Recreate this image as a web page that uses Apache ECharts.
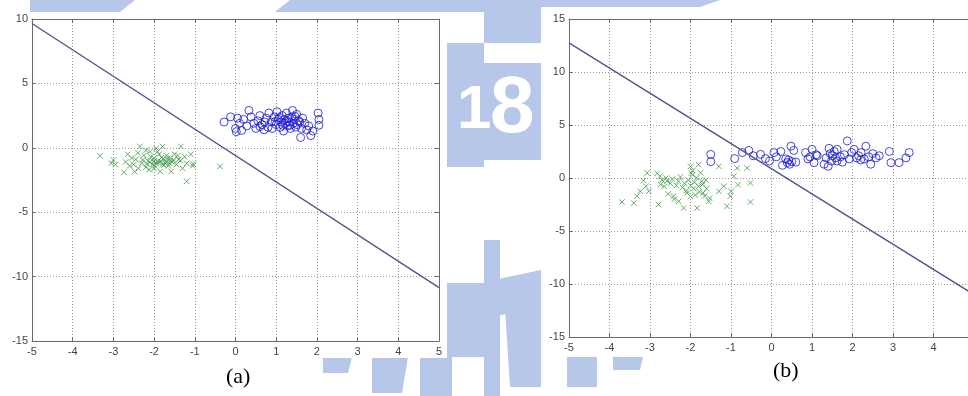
<!DOCTYPE html>
<html>
<head>
<meta charset="utf-8">
<script src="https://cdn.jsdelivr.net/npm/echarts@6/dist/echarts.min.js"></script>
<style>
  html, body { margin: 0; padding: 0; background: #fff; }
  #main { width: 968px; height: 396px; }
</style>
</head>
<body>
<div id="main"></div>
<script>
// (a) 两类样本 + 判别线
const greenA = [
  [-3.33,-0.62],[-3.05,-1.2],[-3.0,-0.95],[-2.95,-1.3],[-2.74,-1.9],[-2.7,-1.1],[-2.6,-1.4],[-2.48,-1.85],
  [-2.45,-0.9],[-2.4,-0.4],[-2.35,0.1],[-2.3,-1.2],[-2.25,-0.6],[-2.2,-1.5],[-2.15,-1.0],[-2.1,-0.3],
  [-2.05,-1.3],[-2.0,-1.6],[-2.0,-0.8],[-1.95,-1.2],[-1.9,-1.0],[-1.88,-0.5],[-1.85,-1.84],[-1.8,-1.3],
  [-1.79,0.1],[-1.75,-0.9],[-1.7,-1.1],[-1.7,-0.6],[-1.65,-1.4],[-1.6,-0.8],[-1.58,-1.84],[-1.55,-1.1],
  [-1.5,-0.5],[-1.45,-1.3],[-1.4,-0.9],[-1.34,0.1],[-1.3,-1.6],[-1.25,-0.7],[-1.2,-2.6],[-1.2,-1.2],
  [-1.1,-0.5],[-1.04,-1.27],[-1.05,-1.4],[-0.38,-1.45],[-2.55,-0.8],[-2.5,-1.3],[-2.38,-1.6],[-2.28,-0.95],
  [-2.18,-1.25],[-2.12,-1.7],[-2.08,-0.7],[-1.98,-1.4],[-1.92,-0.3],[-1.84,-1.05],[-1.76,-1.35],[-1.68,-0.85],
  [-1.62,-1.2],[-1.52,-0.95],[-1.42,-0.6],[-1.35,-1.0],[-2.65,-0.5],[-2.2,-0.2],[-1.95,-0.05],[-2.02,-1.05],
  [-1.82,-0.75],[-1.72,-1.2],[-1.9,-1.15],[-2.1,-1.1],[-1.6,-1.0]
];
const blueA = [
  [-0.28,2.0],[-0.12,2.4],[0.0,1.5],[0.02,1.25],[0.05,2.3],[0.1,1.9],[0.15,1.35],[0.2,2.2],[0.28,1.7],
  [0.33,2.9],[0.38,2.4],[0.45,1.9],[0.5,1.5],[0.55,2.1],[0.6,2.5],[0.65,1.8],[0.7,1.4],[0.75,2.3],
  [0.8,1.6],[0.82,2.7],[0.88,2.0],[0.9,1.5],[0.95,2.4],[1.0,1.8],[1.02,2.8],[1.05,2.2],[1.1,1.6],
  [1.12,2.0],[1.15,2.5],[1.18,1.3],[1.2,2.2],[1.22,1.9],[1.25,2.7],[1.28,1.7],[1.3,2.3],[1.32,2.0],
  [1.35,1.5],[1.38,2.4],[1.4,2.9],[1.42,1.9],[1.45,2.2],[1.48,1.6],[1.5,2.6],[1.52,1.8],[1.55,2.1],
  [1.6,0.8],[1.62,1.5],[1.65,2.3],[1.7,1.9],[1.75,1.4],[1.8,1.7],[1.85,0.95],[1.9,1.3],[2.03,2.7],
  [2.05,2.2],[2.05,1.75],[1.08,2.35],[1.16,1.75],[0.72,2.0],[0.6,1.65],[1.26,2.05],[1.34,1.75],
  [0.98,2.05],[1.46,2.45],[1.58,2.0]
];
const lineA = [[-5, 9.65], [5, -10.85]];

// (b)
const greenB = [
  [-3.69,-2.26],[-3.4,-2.36],[-3.32,-1.72],[-3.24,-1.25],[-3.16,-0.25],[-3.07,0.47],[-3.1,-0.78],[-3.03,-1.25],
  [-2.79,-2.5],[-2.75,0.16],[-2.74,-0.63],[-2.58,-0.3],[-2.42,-1.72],[-2.4,-2.0],[-2.29,-2.2],[-2.17,-2.83],
  [-2.09,-1.41],[-2.0,1.1],[-1.98,0.47],[-1.84,-2.83],[-1.8,1.26],[-1.72,-0.31],[-1.69,-1.41],[-1.55,-2.2],
  [-1.53,-1.9],[-1.3,-1.25],[-1.18,-0.78],[-1.1,-2.67],[-1.02,-1.72],[-1.0,-1.25],[-0.93,0.16],[-0.85,0.94],
  [-0.83,-0.63],[-0.6,0.94],[-0.52,-0.47],[-0.52,-2.26],[-1.3,1.1],[-2.82,0.44],[-2.7,-0.2],[-2.65,-0.8],
  [-2.6,0.0],[-2.5,-0.5],[-2.45,-0.1],[-2.35,-0.7],[-2.3,-0.3],[-2.25,0.1],[-2.2,-0.9],[-2.15,-0.5],
  [-2.1,-1.2],[-2.05,-0.2],[-2.0,-0.7],[-1.95,0.3],[-1.92,-1.0],[-1.9,-0.4],[-1.88,-1.6],[-1.85,0.0],
  [-1.8,-0.8],[-1.78,-1.3],[-1.75,0.5],[-1.7,-0.6],[-1.65,-1.7],[-1.62,-0.2],[-1.6,-1.0],[-2.55,-1.5],
  [-2.0,-1.75],[-1.95,0.7]
];
const blueB = [
  [-1.5,2.23],[-1.5,1.54],[-0.91,1.83],[-0.72,2.4],[-0.56,2.6],[-0.45,2.1],[-0.27,2.23],[-0.15,1.83],
  [-0.05,1.6],[0.06,2.4],[0.12,2.0],[0.23,2.5],[0.27,1.2],[0.35,1.8],[0.39,1.45],[0.42,1.7],[0.45,1.3],
  [0.48,3.0],[0.5,1.55],[0.55,2.6],[0.6,1.5],[0.84,2.4],[0.9,1.8],[1.0,2.7],[1.05,1.45],[1.1,2.2],
  [1.13,2.1],[1.3,1.3],[1.35,1.9],[1.42,2.8],[1.45,2.3],[1.48,1.6],[1.5,2.1],[1.55,2.5],[1.62,1.6],
  [1.62,2.7],[1.7,2.0],[1.75,1.5],[1.8,2.2],[1.87,3.5],[1.92,1.8],[1.98,2.4],[2.04,2.7],[2.1,1.9],
  [2.15,2.1],[2.21,2.4],[2.29,1.8],[2.33,3.0],[2.4,2.0],[2.45,1.3],[2.5,2.3],[2.58,1.9],[2.66,2.1],
  [2.91,2.5],[2.95,1.45],[3.15,1.45],[3.32,1.9],[3.4,2.4],[1.4,1.1],[0.95,2.0],[2.2,1.7],[1.58,1.9]
];
const lineB = [[-5, 12.75], [5, -11.0]];

const xRange = [-5, 5, 1];
const yRangeA = [-15, 10, 5];
const yRangeB = [-15, 15, 5];

const axisColor = '#6a6a6a';
const labelStyle = { color: '#444', fontSize: 11, fontFamily: 'Liberation Sans, Arial' };
const dotted = { color: '#9a9a9a', width: 1, type: [1, 2] };

// 每个子图四条边：下、上、左、右（上、右只画刻度）
function xAxes(grid) {
  const base = {
    type: 'value', gridIndex: grid, min: xRange[0], max: xRange[1], interval: xRange[2],
    axisLine: { show: true, onZero: false, lineStyle: { color: axisColor } },
    axisTick: { show: true, inside: true, length: 4, lineStyle: { color: axisColor } }
  };
  return [
    Object.assign({}, base, { position: 'bottom', splitLine: { show: true, lineStyle: dotted },
      axisLabel: Object.assign({ margin: 5 }, labelStyle) }),
    Object.assign({}, base, { position: 'top', splitLine: { show: false }, axisLabel: { show: false } })
  ];
}
function yAxes(grid, r) {
  const base = {
    type: 'value', gridIndex: grid, min: r[0], max: r[1], interval: r[2],
    axisLine: { show: true, onZero: false, lineStyle: { color: axisColor } },
    axisTick: { show: true, inside: true, length: 4, lineStyle: { color: axisColor } }
  };
  return [
    Object.assign({}, base, { position: 'left', splitLine: { show: true, lineStyle: dotted },
      axisLabel: Object.assign({ margin: 4 }, labelStyle) }),
    Object.assign({}, base, { position: 'right', splitLine: { show: false }, axisLabel: { show: false } })
  ];
}

const cross = 'path://M0,0L10,10M10,0L0,10';
const crossStyle = { color: 'rgba(0,0,0,0)', borderColor: '#3f9a46', borderWidth: 1 };
const circleStyle = { color: 'rgba(0,0,0,0)', borderColor: '#1a1ad0', borderWidth: 1 };
const lineStyle = { color: '#55558a', width: 1.4 };

// 背景水印（淡蓝色块）
const wm = '#b6c7ea';
const watermark = [
  [[30, 0], [135, 0], [120, 12], [30, 12]],
  [[290, 0], [484, 0], [484, 12], [275, 12]],
  [[447, 43], [484, 43], [484, 167], [447, 167]],
  [[447, 283], [484, 283], [484, 357], [447, 357]],
  [[323, 357], [352, 357], [348, 373], [323, 373]],
  [[372, 357], [408, 357], [402, 393], [372, 393]],
  [[420, 357], [452, 357], [452, 396], [420, 396]],
  [[484, 0], [720, 0], [700, 7], [484, 7]],
  [[484, 7], [541, 7], [541, 43], [484, 43]],
  [[484, 63], [541, 63], [541, 160], [484, 160]],
  [[484, 282], [541, 270], [541, 308], [484, 318]],
  [[505, 308], [541, 308], [541, 387], [510, 387]],
  [[484, 240], [500, 240], [500, 396], [484, 396]],
  [[567, 357], [597, 357], [597, 387], [567, 387]],
  [[613, 357], [643, 357], [640, 370], [613, 370]]
].map(p => ({ type: 'polygon', z: -20, shape: { points: p }, style: { fill: wm } }));

const chart = echarts.init(document.getElementById('main'));
chart.setOption({
  animation: false,
  backgroundColor: '#fff',
  graphic: watermark.concat([
    { type: 'text', z: -15, left: 457, top: 80, style: { text: '1', fill: '#fff', font: 'bold 62px Liberation Sans' } },
    { type: 'text', z: -15, left: 490, top: 70, style: { text: '8', fill: '#fff', font: 'bold 80px Liberation Sans' } },
    { type: 'rect', z: -10, shape: { x: 0, y: 12, width: 447, height: 346 }, style: { fill: '#fff' } },
    { type: 'rect', z: -10, shape: { x: 541, y: 7, width: 427, height: 340 }, style: { fill: '#fff' } },
    { type: 'text', z: 5, left: 226, top: 366, style: { text: '(a)', fill: '#000', font: '22px Liberation Serif' } },
    { type: 'text', z: 5, left: 773, top: 360, style: { text: '(b)', fill: '#000', font: '22px Liberation Serif' } }
  ]),
  grid: [
    { left: 32, top: 19, width: 407, height: 322, outerBoundsMode: 'none', containLabel: false,
      show: true, backgroundColor: '#fff', borderWidth: 0 },
    { left: 569, top: 19, width: 405, height: 318, outerBoundsMode: 'none', containLabel: false,
      show: true, backgroundColor: '#fff', borderWidth: 0 }
  ],
  xAxis: xAxes(0).concat(xAxes(1)),
  yAxis: yAxes(0, yRangeA).concat(yAxes(1, yRangeB)),
  series: [
    { type: 'scatter', xAxisIndex: 0, yAxisIndex: 0, data: greenA, symbol: cross, symbolSize: 5.5, itemStyle: crossStyle },
    { type: 'scatter', xAxisIndex: 0, yAxisIndex: 0, data: blueA, symbol: 'circle', symbolSize: 8, itemStyle: circleStyle },
    { type: 'line', xAxisIndex: 0, yAxisIndex: 0, data: lineA, showSymbol: false, lineStyle: lineStyle },
    { type: 'scatter', xAxisIndex: 2, yAxisIndex: 2, data: greenB, symbol: cross, symbolSize: 5.5, itemStyle: crossStyle },
    { type: 'scatter', xAxisIndex: 2, yAxisIndex: 2, data: blueB, symbol: 'circle', symbolSize: 8, itemStyle: circleStyle },
    { type: 'line', xAxisIndex: 2, yAxisIndex: 2, data: lineB, showSymbol: false, lineStyle: lineStyle }
  ]
});
</script>
</body>
</html>
